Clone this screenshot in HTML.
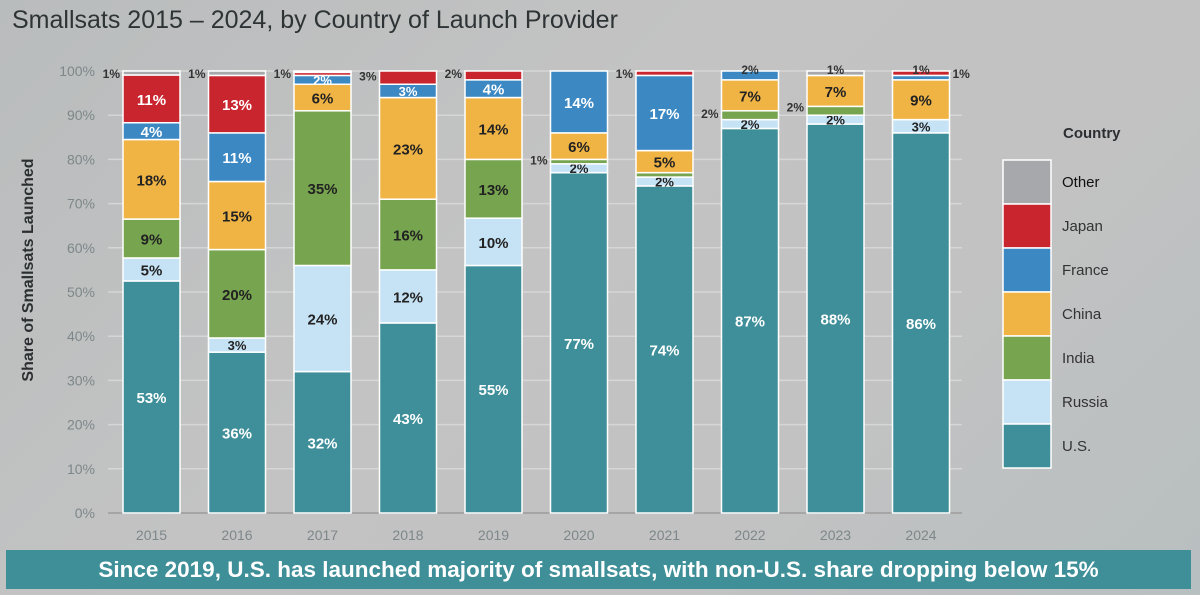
<!DOCTYPE html>
<html><head><meta charset="utf-8"><style>
html,body{margin:0;padding:0;}
body{width:1200px;height:595px;overflow:hidden;background:linear-gradient(135deg,#b9bcbd 0%,#c3c3c3 40%,#c2c2c2 70%,#b8bfc0 100%);font-family:"Liberation Sans",sans-serif;position:relative;}
#title{position:absolute;left:12px;top:6px;font-size:25px;color:#2e3436;}
#banner{position:absolute;left:6px;top:550px;width:1185px;height:39px;background:#3e8f98;color:#fff;font-weight:bold;font-size:22.5px;text-align:center;line-height:39px;}
svg{position:absolute;left:0;top:0;}
</style></head><body>
<div id="title">Smallsats 2015 – 2024, by Country of Launch Provider</div>
<svg id="chart" width="1200" height="595"></svg>
<div id="banner">Since 2019, U.S. has launched majority of smallsats, with non-U.S. share dropping below 15%</div>
<script>
const years=["2015","2016","2017","2018","2019","2020","2021","2022","2023","2024"];
const series=["U.S.","Russia","India","China","France","Japan","Other"];
const usVals=[52.5,36.4,32,43,56,77,74,87,88,86];
const russiaVals=[5.2,3.2,24,12,10.7,2,2,2,2,3];
const indiaVals=[8.8,20,35,16,13.3,1,1,2,2,0];
const chinaVals=[18,15.4,6,23,14,6,5,7,7,9];
const franceVals=[3.8,11,2,3,4,14,17,2,0,1];
const japanVals=[10.8,13,0.7,3,2,0,1,0,0,1];
const otherVals=[0.9,1,0.3,0,0,0,0,0,1,0];
const usLab=["53%","36%","32%","43%","55%","77%","74%","87%","88%","86%"];
const russiaLab=["5%","3%","24%","12%","10%","2%","2%","2%","2%","3%"];
const indiaLab=["9%","20%","35%","16%","13%","","","","",""];
const chinaLab=["18%","15%","6%","23%","14%","6%","5%","7%","7%","9%"];
const franceLab=["4%","11%","2%","3%","4%","14%","17%","","",""];
const japanLab=["11%","13%","","","","","","","",""];
const outIdx=[0,1,2,3,4,5,6,7,7,8,8,9,9];
const outPct=[99.5,99.5,99.5,99,99.5,80,99.5,90.5,100.5,92,100.5,100.5,99.5];
const outText=["1%","1%","1%","3%","2%","1%","1%","2%","2%","2%","1%","1%","1%"];
const outSide=["L","L","L","L","L","L","L","L","T","L","T","T","R"];
const yTicks=[0,10,20,30,40,50,60,70,80,90,100];
const colors=["#3f8f9a","#c6e3f5","#76a44f","#f0b445","#3c88c3","#c9252f","#a6a8ab"];
const allVals=[usVals,russiaVals,indiaVals,chinaVals,franceVals,japanVals,otherVals];
const allLabs=[usLab,russiaLab,indiaLab,chinaLab,franceLab,japanLab,null];
const textCol=["#fff","#222","#222","#222","#fff","#fff","#222"];
const NS="http://www.w3.org/2000/svg";
const svg=document.getElementById('chart');
const y0=513,y100=71,x0=123,pitch=85.5,bw=57;
function y(v){return y0-(y0-y100)*v/100;}
function x(i){return x0+i*pitch;}
function mk(t,a,p){const e=document.createElementNS(NS,t);for(const k in a)e.setAttribute(k,a[k]);(p||svg).appendChild(e);return e;}
const yt=mk('text',{x:0,y:0,transform:'translate(33,270) rotate(-90)','text-anchor':'middle','font-size':16,'font-weight':'bold',fill:'#2b2f31'});
yt.textContent='Share of Smallsats Launched';


yTicks.forEach(t=>{
  const g=mk('line',{x1:108,x2:962,y1:y(t),y2:y(t),stroke:t===0?'#a5a5a5':'#d6d6d6','stroke-width':t===0?2:1.5});
  
  
  const l=mk('text',{x:95,y:y(t)+5,'text-anchor':'end','font-size':14,fill:'#7d878a'});
  l.textContent=t+'%';
  
  
});
years.forEach((yr,i)=>{
  let cum=0;
  for(let s=0;s<series.length;s++){
    const v=allVals[s][i];
    if(v<=0)continue;
    const r=mk('rect',{x:x(i),y:y(cum+v),width:bw,height:y(cum)-y(cum+v),fill:colors[s],stroke:'#fff','stroke-width':1.5});
    
    
    const lab=allLabs[s]?allLabs[s][i]:'';
    if(lab){
      const small=v<3.5;
      const t=mk('text',{x:x(i)+bw/2,y:(y(cum)+y(cum+v))/2+(small?5:6),'text-anchor':'middle','font-size':small?13:15,'font-weight':'bold',fill:textCol[s]});
      t.textContent=lab;
      
      
    }
    cum+=v;
  }
  const xl=mk('text',{x:x(i)+bw/2,y:540,'text-anchor':'middle','font-size':14,fill:'#7d878a'});
  xl.textContent=yr;
  
  
});
outIdx.forEach((i,k)=>{
  const side=outSide[k];
  const px=side==='L'?x(i)-3:side==='R'?x(i)+bw+3:x(i)+bw/2;
  const t=mk('text',{x:px,y:y(outPct[k])+5,'text-anchor':side==='L'?'end':side==='R'?'start':'middle','font-size':12,'font-weight':'bold',fill:'#333'});
  t.textContent=outText[k];
  
  
});
const lt=mk('text',{x:1063,y:138,'font-size':15,'font-weight':'bold',fill:'#2b2f31'});
lt.textContent='Country';


for(let k=0;k<7;k++){
  const s=6-k;
  const yy=160+k*44;
  const sw=mk('rect',{x:1003,y:yy,width:48,height:44,fill:colors[s],stroke:'#fff','stroke-width':1.5});
  
  
  const t=mk('text',{x:1062,y:yy+27,'font-size':15,fill:s===6?'#111':'#333'});
  t.textContent=series[s];
  
  
}
</script>
</body></html>
